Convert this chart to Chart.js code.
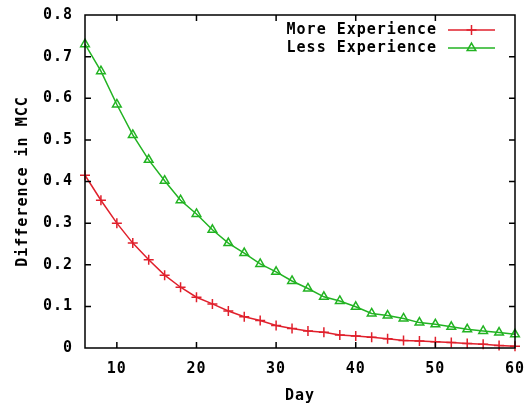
<!DOCTYPE html>
<html>
<head>
<meta charset="utf-8">
<script src="https://cdn.jsdelivr.net/npm/chart.js@4.4.0/dist/chart.umd.min.js"></script>
<style>
  html, body { margin: 0; padding: 0; background: #fff; }
  #wrap { width: 525px; height: 405px; position: relative; }
</style>
</head>
<body>
<div id="wrap"><canvas id="chart"></canvas></div>
<script>
// values, one reading every 2 days
const days = [6, 8, 10, 12, 14, 16, 18, 20, 22, 24, 26, 28, 30, 32, 34, 36, 38, 40, 42, 44, 46, 48, 50, 52, 54, 56, 58, 60];
const moreExperience = [0.415, 0.355, 0.300, 0.252, 0.212, 0.175, 0.146, 0.122, 0.106, 0.089, 0.075, 0.066,
  0.054, 0.047, 0.041, 0.038, 0.031, 0.029, 0.026, 0.022, 0.018, 0.017, 0.015, 0.013, 0.011, 0.009, 0.006, 0.004];
const lessExperience = [0.730, 0.665, 0.585, 0.512, 0.452, 0.402, 0.355, 0.322, 0.284, 0.252, 0.228, 0.202,
  0.183, 0.161, 0.143, 0.123, 0.113, 0.099, 0.083, 0.078, 0.071, 0.061, 0.057, 0.051, 0.045, 0.041, 0.037, 0.033];
const xTicks = [10, 20, 30, 40, 50, 60];
const yTicks = [0, 0.1, 0.2, 0.3, 0.4, 0.5, 0.6, 0.7, 0.8];

const RED = '#e0202c';
const GREEN = '#22b322';
const FONT = { family: "'DejaVu Sans Mono', monospace", size: 15, weight: 'bold' };
const SPACING = '1px';

const toPoints = vals => vals.map((v, i) => ({ x: days[i], y: v }));

// gnuplot look: wide bitmap-ish font, closed frame, ticks pointing inward on all sides
const gnuplotFrame = {
  id: 'gnuplotFrame',
  beforeUpdate(chart) { chart.ctx.letterSpacing = SPACING; },
  beforeDraw(chart) { chart.ctx.letterSpacing = SPACING; },
  afterDatasetsDraw(chart) {
    const { ctx, chartArea: a, scales: { x, y } } = chart;
    const len = 6;
    ctx.save();
    ctx.strokeStyle = '#000';
    ctx.lineWidth = 1.5;
    ctx.beginPath();
    xTicks.forEach(v => {
      const px = x.getPixelForValue(v);
      ctx.moveTo(px, a.bottom); ctx.lineTo(px, a.bottom - len);
      ctx.moveTo(px, a.top); ctx.lineTo(px, a.top + len);
    });
    yTicks.forEach(v => {
      const py = y.getPixelForValue(v);
      ctx.moveTo(a.left, py); ctx.lineTo(a.left + len, py);
      ctx.moveTo(a.right, py); ctx.lineTo(a.right - len, py);
    });
    ctx.rect(a.left, a.top, a.right - a.left, a.bottom - a.top);
    ctx.stroke();

    // key in the top right corner: text right-aligned, then a line sample with its marker
    const textRight = a.right - 78;
    const lineL = a.right - 67, lineR = a.right - 20;
    ctx.font = `${FONT.weight} ${FONT.size}px ${FONT.family}`;
    ctx.textAlign = 'right';
    ctx.textBaseline = 'middle';
    chart.data.datasets.forEach((ds, i) => {
      const ly = a.top + 15 + i * 18;
      ctx.fillStyle = '#000';
      ctx.fillText(ds.label, textRight, ly);
      ctx.strokeStyle = ds.borderColor;
      ctx.lineWidth = ds.borderWidth;
      ctx.beginPath();
      ctx.moveTo(lineL, ly); ctx.lineTo(lineR, ly);
      ctx.stroke();
      ctx.fillStyle = ds.pointBackgroundColor;
      ctx.lineWidth = ds.pointBorderWidth;
      Chart.helpers.drawPoint(ctx, {
        pointStyle: ds.pointStyle, radius: ds.pointRadius, rotation: 0,
        borderWidth: ds.pointBorderWidth
      }, (lineL + lineR) / 2, ly);
    });
    ctx.restore();
  }
};

new Chart(document.getElementById('chart'), {
  type: 'line',
  data: {
    datasets: [
      {
        label: 'More Experience',
        data: toPoints(moreExperience),
        borderColor: RED,
        borderWidth: 1.5,
        pointStyle: 'cross',
        pointRadius: 5,
        pointBorderWidth: 1.5,
        pointBorderColor: RED,
        pointBackgroundColor: RED,
        tension: 0,
        fill: false
      },
      {
        label: 'Less Experience',
        data: toPoints(lessExperience),
        borderColor: GREEN,
        borderWidth: 1.5,
        pointStyle: 'triangle',
        pointRadius: 5,
        pointBorderWidth: 1.5,
        pointBorderColor: GREEN,
        pointBackgroundColor: 'rgba(0,0,0,0)',
        tension: 0,
        fill: false
      }
    ]
  },
  options: {
    responsive: true,
    maintainAspectRatio: false,
    animation: false,
    clip: false,
    layout: { padding: { top: 15, right: 10, left: 0, bottom: 0 } },
    plugins: {
      legend: { display: false },
      tooltip: { enabled: false }
    },
    scales: {
      x: {
        type: 'linear',
        min: 6,
        max: 60,
        afterBuildTicks: scale => { scale.ticks = xTicks.map(v => ({ value: v })); },
        afterFit: scale => { scale.height = 57; scale.paddingLeft = 0; scale.paddingRight = 0; },
        grid: { display: false, drawTicks: false },
        border: { display: false },
        ticks: { color: '#000', font: FONT, padding: 12, maxRotation: 0 },
        title: { display: true, text: 'Day', color: '#000', font: FONT, padding: { top: 8, bottom: 0 } }
      },
      y: {
        min: 0,
        max: 0.8,
        afterBuildTicks: scale => { scale.ticks = yTicks.map(v => ({ value: v })); },
        afterFit: scale => { scale.width = 85; scale.paddingTop = 0; scale.paddingBottom = 0; },
        grid: { display: false, drawTicks: false },
        border: { display: false },
        ticks: {
          color: '#000', font: FONT, padding: 12,
          callback: v => (v === 0 ? '0' : v.toFixed(1))
        },
        title: { display: true, text: 'Difference in MCC', color: '#000', font: FONT, padding: { top: 14, bottom: 4 } }
      }
    }
  },
  plugins: [gnuplotFrame]
});
</script>
</body>
</html>
